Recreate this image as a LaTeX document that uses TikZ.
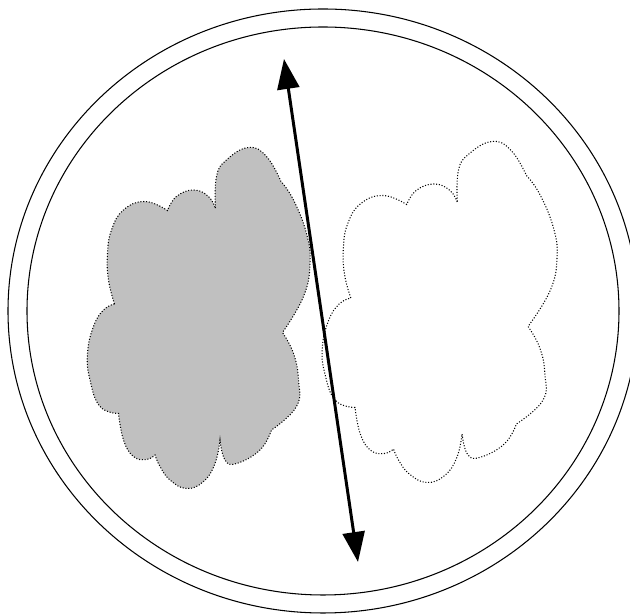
\documentclass[tikz,border=0pt]{standalone}
\usepackage{xcolor}
\usepackage{tikz}
\usetikzlibrary{arrows.meta, calc}

\definecolor{cloudgray}{RGB}{192,192,192}

% outline of one cloud (left one, in cm)
\newcommand{\blobshape}{
  plot[smooth, tension=0.75] coordinates {(2.29,6.22) (2.17,6.70) (2.15,7.23) (2.23,7.70) (2.47,8.10) (2.90,8.27) (3.35,8.09)}
  -- plot[smooth, tension=0.75] coordinates {(3.35,8.09) (3.53,8.37) (3.87,8.50) (4.17,8.37) (4.31,8.13)}
  -- plot[smooth, tension=0.75] coordinates {(4.31,8.13) (4.33,8.77) (4.53,9.10) (4.97,9.35) (5.33,9.17) (5.62,8.67)}
  -- plot[smooth, tension=0.75] coordinates {(5.62,8.67) (5.87,8.30) (6.13,7.63) (6.20,7.03) (6.07,6.37) (5.65,5.65)}
  -- plot[smooth, tension=0.75] coordinates {(5.65,5.65) (5.87,5.23) (5.97,4.70) (5.93,4.17) (5.43,3.70)}
  -- plot[smooth, tension=0.75] coordinates {(5.43,3.70) (5.20,3.30) (4.73,3.03) (4.50,3.10) (4.40,3.50)}
  -- plot[smooth, tension=0.75] coordinates {(4.40,3.50) (4.30,3.03) (4.07,2.67) (3.73,2.53) (3.40,2.70) (3.20,2.97) (3.10,3.20)}
  -- plot[smooth, tension=0.75] coordinates {(3.10,3.20) (2.93,3.11) (2.67,3.17) (2.47,3.50) (2.37,4.03)}
  -- plot[smooth, tension=0.75] coordinates {(2.37,4.03) (2.00,4.17) (1.80,4.70) (1.75,5.23) (1.87,5.77) (2.07,6.10) (2.29,6.22)}
  -- cycle}

\tikzset{
  rim/.style={line width=0.6pt},
  blob/.style={densely dotted, line width=0.6pt, draw=black},
  swing/.style={line width=1.7pt, {Triangle[length=0.6cm,width=0.44cm]}-{Triangle[length=0.6cm,width=0.44cm]}}
}

\begin{document}
\begin{tikzpicture}
    \useasboundingbox (0,0) rectangle (12.6,12.3);

    % Outer and inner rim
    \draw[rim] (6.46,6.08) ellipse [x radius=6.3, y radius=6.04];
    \draw[rim] (6.46,6.08) ellipse [x radius=5.92, y radius=5.68];

    % Shaded cloud on the left
    \draw[blob, fill=cloudgray] \blobshape;

    % Empty cloud on the right (same outline, moved over)
    \begin{scope}[shift={(4.60,0.12)}, xscale=1.055]
        \draw[blob, fill=white] \blobshape;
    \end{scope}

    % Double arrow between the two clouds
    \coordinate (up) at (5.68,11.12);
    \coordinate (down) at (7.16,1.06);
    \draw[swing] (up) -- (down);

\end{tikzpicture}
\end{document}
